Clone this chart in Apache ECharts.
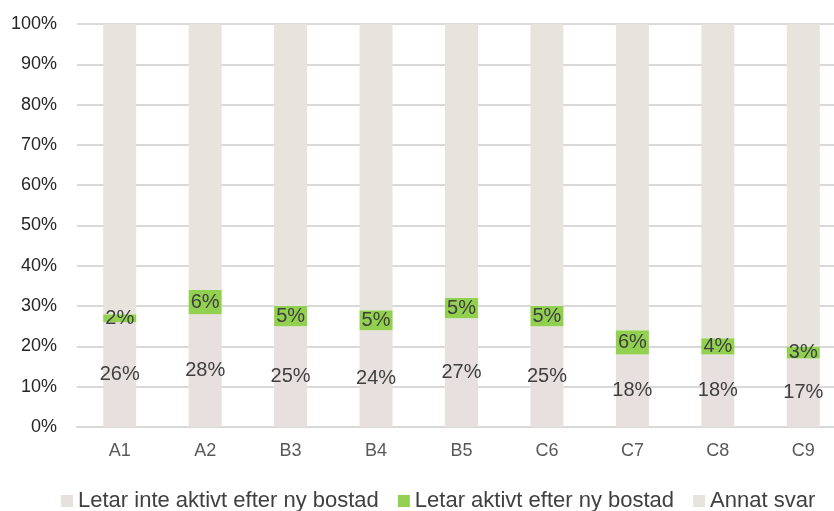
<!DOCTYPE html>
<html>
<head>
<meta charset="utf-8">
<script src="https://cdn.jsdelivr.net/npm/echarts@6/dist/echarts.min.js"></script>
<style>
  html, body { margin: 0; padding: 0; background: #ffffff; }
  #chart { width: 834px; height: 511px; }
</style>
</head>
<body>
<div id="chart"></div>
<script>
// Categories along the x axis
const categories = ['A1', 'A2', 'B3', 'B4', 'B5', 'C6', 'C7', 'C8', 'C9'];

// Share of respondents (%) per answer
const notActive = [26, 28, 25, 24, 27, 25, 18, 18, 17];
const active = [2, 6, 5, 5, 5, 5, 6, 4, 3];
const otherAnswer = [72, 66, 70, 71, 68, 70, 76, 78, 80];

// Series names shown in the legend
const seriesNames = ['Letar inte aktivt efter ny bostad', 'Letar aktivt efter ny bostad', 'Annat svar'];

const FONT = '"Liberation Sans", Arial, sans-serif';

const chart = echarts.init(document.getElementById('chart'), null, { renderer: 'canvas' });

const labelStyle = {
  show: true,
  position: 'inside',
  formatter: '{c}%',
  color: '#404040',
  fontFamily: FONT,
  fontSize: 20
};

chart.setOption({
  animation: false,
  backgroundColor: '#ffffff',
  // plot area runs slightly past the right edge of the canvas
  grid: { left: 77, width: 769, top: 24, bottom: 84, containLabel: false, outerBoundsMode: 'none' },
  legend: {
    bottom: -6,
    left: 56,
    itemWidth: 12,
    itemHeight: 12,
    itemGap: 19,
    icon: 'rect',
    textStyle: { fontFamily: FONT, fontSize: 22, color: '#404040' },
    data: seriesNames
  },
  xAxis: {
    type: 'category',
    data: categories,
    axisLine: { lineStyle: { color: '#d9d9d9', width: 2 } },
    axisTick: { show: false },
    axisLabel: { fontFamily: FONT, fontSize: 18, color: '#595959', margin: 15 }
  },
  yAxis: {
    type: 'value',
    min: 0,
    max: 100,
    interval: 10,
    axisLine: { show: false },
    axisTick: { show: false },
    axisLabel: { formatter: '{value}%', fontFamily: FONT, fontSize: 18, color: '#262626', margin: 20 },
    splitLine: { lineStyle: { color: '#d9d9d9', width: 2 } }
  },
  series: [
    {
      name: seriesNames[0],
      type: 'bar',
      stack: 'total',
      barWidth: 33,
      data: notActive,
      itemStyle: { color: '#e8dfdf' },
      label: labelStyle
    },
    {
      name: seriesNames[1],
      type: 'bar',
      stack: 'total',
      barWidth: 33,
      data: active,
      itemStyle: { color: '#92d050' },
      label: labelStyle
    },
    {
      name: seriesNames[2],
      type: 'bar',
      stack: 'total',
      barWidth: 33,
      data: otherAnswer,
      itemStyle: { color: '#e7e3dd' },
      label: { show: false }
    }
  ]
});
</script>
</body>
</html>
